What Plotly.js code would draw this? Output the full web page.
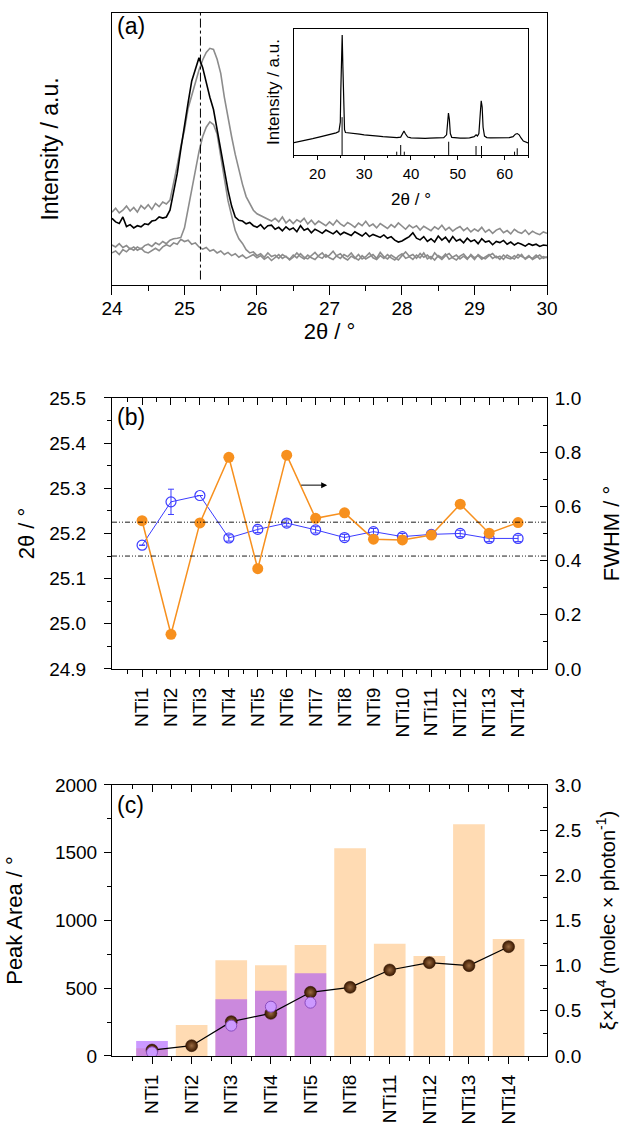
<!DOCTYPE html>
<html><head><meta charset="utf-8">
<script src="https://cdn.plot.ly/plotly-3.0.1.min.js"></script>
<style>html,body{margin:0;padding:0;background:#fff}#chart{width:626px;height:1127px}</style>
</head><body><div id="chart"></div>
<script>
// ---------- Panel (a): XRD detail (intensity in a.u. x1000) ----------
const thetaA = Array.from({length:121},(_,i)=>+(24+i*0.05).toFixed(2));
const blackA = [245,232,226,250,215,222,210,218,214,225,
 222,235,238,250,246,250,275,340,410,500,
 590,670,750,790,835,800,740,690,645,570,
 500,410,349,290,250,238,235,225,230,218,
 212,222,206,218,220,205,212,199,214,203,
 210,196,218,201,208,192,205,198,190,202,
 195,188,199,185,194,189,182,196,187,180,
 192,178,186,181,175,184,172,178,165,158,
 162,170,178,192,172,166,178,160,170,158,
 180,165,176,158,178,162,168,155,172,160,
 166,152,170,158,162,148,160,156,164,150,
 158,147,155,150,143,152,146,150,142,147,145];
const grayA1 = [268,282,265,275,290,272,285,268,292,280,
 295,278,300,288,305,298,312,370,440,510,
 570,650,700,750,790,827,855,870,866,830,
 778,690,610,545,480,420,370,325,298,275,
 262,255,250,242,235,245,232,250,228,240,
 226,240,232,245,224,238,222,235,228,218,
 232,220,238,225,216,230,222,212,228,218,
 234,216,224,210,226,218,208,222,212,228,
 216,205,220,210,218,202,216,208,200,214,
 205,220,202,212,198,208,215,200,210,195,
 206,198,212,194,204,190,202,208,192,200,
 188,205,195,190,202,186,198,190,185,195,190];
const grayA2 = [118,125,112,130,122,135,128,140,132,145,
 150,142,155,148,160,152,165,170,172,175,
 210,280,345,420,490,545,580,600,590,555,
 472,380,310,255,200,170,153,130,118,122,
 108,115,102,118,105,110,98,112,104,95,
 110,100,115,102,96,108,120,104,98,112,
 100,94,108,115,100,92,106,98,112,96,
 104,118,100,94,108,98,112,100,92,106,
 115,98,104,94,110,100,118,96,105,92,
 108,100,114,95,103,110,96,106,94,112,
 100,108,95,104,112,98,106,94,110,100,
 96,108,99,112,95,104,98,110,96,104,100];
const grayA3 = [147,140,152,138,145,132,140,128,135,122,
 118,128,135,126,140,148,142,155,150,168,
 160,165,150,155,140,132,138,125,130,118,
 125,112,120,108,115,102,110,98,105,112,
 100,108,95,104,90,100,112,98,106,92,
 102,118,104,96,110,100,94,108,118,102,
 110,124,106,98,112,104,118,100,92,108,
 96,104,112,98,120,104,96,110,102,92,
 108,122,106,112,98,116,102,110,96,118,
 104,94,108,116,100,92,106,114,98,108,
 94,112,102,96,108,116,100,106,94,110,
 102,96,112,104,98,108,94,102,110,98,104];
const peakRefA = [25.22];

// ---------- Inset: full pattern ----------
const thetaIn = [15,17,19,21,23,24,24.6,24.9,25.0,25.15,25.3,25.45,25.6,25.8,26,27,28,29,30,31,32,33,34,35,36,37,37.8,38.2,38.5,38.8,39.3,40,41,42,43,44,45,46,47,47.6,47.8,48.0,48.2,48.4,48.7,49.5,50.5,51.5,52.5,53.5,53.9,54.2,54.5,54.8,55.0,55.2,55.4,55.7,56.2,57,58,59,60,61,61.8,62.3,62.7,63.1,63.5,64,65];
const intIn = [98,112,130,148,165,175,185,260,500,850,952,700,350,200,178,172,168,165,160,158,155,150,146,142,140,138,142,165,190,168,142,136,133,133,132,133,134,135,137,160,260,333,280,170,140,135,134,134,136,145,160,150,170,330,430,380,220,150,138,136,135,134,135,137,145,165,170,160,135,110,95];
const refPos = [25.28,36.95,37.80,38.57,48.05,53.89,55.06,62.12,62.69];
const refInt = [300,26,79,26,105,71,71,26,53];

// ---------- Panel (b) ----------
const catsB = ['NTi1','NTi2','NTi3','NTi4','NTi5','NTi6','NTi7','NTi8','NTi9','NTi10','NTi11','NTi12','NTi13','NTi14'];
const twoThetaB = [25.174,25.270,25.284,25.190,25.209,25.223,25.208,25.191,25.204,25.193,25.198,25.200,25.189,25.189];
const twoThetaErrB = [0,0.028,0,0.007,0.007,0.007,0.007,0.007,0.007,0.007,0.007,0.007,0.007,0.007];
const fwhmB = [0.547,0.128,0.539,0.781,0.370,0.789,0.556,0.576,0.479,0.476,0.494,0.608,0.501,0.540];
const refLinesB = [25.225,25.150];

// ---------- Panel (c) ----------
const catsC = ['NTi1','NTi2','NTi3','NTi4','NTi5','NTi8','NTi11','NTi12','NTi13','NTi14'];
const areaTotalC = [57,229,706,669,819,1533,829,738,1710,863];
const catsCP = ['NTi1','NTi3','NTi4','NTi5'];
const areaPurpleC = [111,418,482,610];
const xiC = [0.066,0.114,0.380,0.472,0.705,0.760,0.952,1.033,1.000,1.210];
const xiPurpleC = [0.041,0.336,0.546,0.590];

// ---------- helpers ----------
const FONT = 'Liberation Sans, Arial, sans-serif';
const idxB = catsB.map((c,i)=>i);
const idxC = catsC.map((c,i)=>i);
const idxCP = catsCP.map(c=>catsC.indexOf(c));
const half = n => Array.from({length:n+1},(_,i)=>i-0.5);

const refX=[], refY=[];
refPos.forEach((p,i)=>{refX.push(p,p,null); refY.push(0,refInt[i],null);});

const traces = [
 {x:thetaA,y:grayA3,xaxis:'x',yaxis:'y',mode:'lines',line:{color:'#8c8c8c',width:1.6}},
 {x:thetaA,y:grayA2,xaxis:'x',yaxis:'y',mode:'lines',line:{color:'#8c8c8c',width:1.6}},
 {x:thetaA,y:grayA1,xaxis:'x',yaxis:'y',mode:'lines',line:{color:'#8c8c8c',width:1.6}},
 {x:thetaA,y:blackA,xaxis:'x',yaxis:'y',mode:'lines',line:{color:'#000',width:1.6}},
 {x:thetaIn,y:intIn,xaxis:'x2',yaxis:'y2',mode:'lines',line:{color:'#000',width:1.2}},
 {x:refX,y:refY,xaxis:'x2',yaxis:'y2',mode:'lines',line:{color:'#000',width:1}},
 // panel b
 {x:idxB,y:fwhmB,xaxis:'x3',yaxis:'y4',mode:'lines+markers',
  line:{color:'#f7901e',width:1.5},marker:{color:'#f7901e',size:11}},
 {x:idxB,y:twoThetaB,xaxis:'x3',yaxis:'y3',mode:'lines+markers',
  line:{color:'#3c3cff',width:1},
  marker:{symbol:'circle-open',color:'#3c3cff',size:10,line:{width:1.2}},
  error_y:{type:'data',array:twoThetaErrB,visible:true,color:'#3c3cff',thickness:1,width:3}},
 {x:[],y:[],xaxis:'x5',yaxis:'y3'},
 // panel c
 {x:idxC,y:areaTotalC,xaxis:'x4',yaxis:'y5',type:'bar',width:0.8,marker:{color:'#ffdbb3',line:{width:0}}},
 {x:idxCP,y:areaPurpleC,xaxis:'x4',yaxis:'y5',type:'bar',width:0.8,marker:{color:'rgba(160,70,255,0.55)',line:{width:0}}},
 {x:idxC,y:xiC,xaxis:'x4',yaxis:'y6',mode:'lines+markers',line:{color:'#000',width:1.2},
  marker:{color:'#3a1800',size:12,gradient:{type:'radial',color:'#9a6a40'},line:{color:'#2a1000',width:0.5}}},
 {x:idxCP,y:xiPurpleC,xaxis:'x4',yaxis:'y6',mode:'markers',
  marker:{color:'#cc99ff',size:11,line:{color:'#8a4cc0',width:1}}},
 {x:[],y:[],xaxis:'x6',yaxis:'y5'}
];

const XD=[0.1789,0.8738];
const TK=19, CAT=19;
const axBase = {showline:true,linecolor:'#000',linewidth:1,zeroline:false,showgrid:false,
  tickfont:{family:FONT,size:TK,color:'#000'},tickcolor:'#000',ticklen:7,tickwidth:1,ticklabelstandoff:3};
const titleFont = s=>({family:FONT,size:s,color:'#000'});

const layout = {
 width:626,height:1127,margin:{l:0,r:0,t:0,b:0},paper_bgcolor:'#fff',plot_bgcolor:'rgba(0,0,0,0)',
 showlegend:false,barmode:'overlay',font:{family:FONT,color:'#000'},
 // panel a
 xaxis:Object.assign({},axBase,{domain:XD,anchor:'y',range:[24,30],dtick:1,ticks:'outside',mirror:true,ticklen:9,ticklabelstandoff:-3,
   minor:{dtick:0.5,ticklen:5,ticks:'outside',tickcolor:'#000'},
   title:{text:'2θ / °',font:titleFont(22),standoff:2}}),
 yaxis:Object.assign({},axBase,{domain:[0.7471,0.9885],anchor:'x',range:[0,1000],showticklabels:false,ticks:'',mirror:true,
   title:{text:'Intensity / a.u.',font:titleFont(23),standoff:45}}),
 // inset
 xaxis2:Object.assign({},axBase,{domain:[0.4696,0.8435],anchor:'y2',range:[15,65],dtick:10,ticks:'outside',ticklen:4,mirror:true,
   tickfont:{family:FONT,size:15,color:'#000'},ticklabelstandoff:1,minor:{dtick:5,ticklen:2,ticks:'outside',tickcolor:'#000'},
   title:{text:'2θ / °',font:titleFont(17),standoff:12}}),
 yaxis2:Object.assign({},axBase,{domain:[0.8625,0.9743],anchor:'x2',range:[0,1000],showticklabels:false,ticks:'',mirror:true,
   title:{text:'Intensity / a.u.',font:titleFont(17),standoff:9}}),
 // panel b
 xaxis3:Object.assign({},axBase,{domain:XD,anchor:'y3',range:[-1.04,14.0],tickmode:'array',tickvals:idxB,ticktext:catsB,
   tickangle:-90,ticks:'outside',tickfont:{family:FONT,size:CAT,color:'#000'},
   minor:{tickmode:'array',tickvals:half(14),ticklen:4,ticks:'outside',tickcolor:'#000'}}),
 xaxis5:Object.assign({},axBase,{overlaying:'x3',side:'top',anchor:'y3',range:[-1.04,14.0],tickmode:'array',tickvals:idxB,
   showticklabels:false,ticks:'inside',minor:{tickmode:'array',tickvals:half(14),ticklen:4,ticks:'inside',tickcolor:'#000'}}),
 yaxis3:Object.assign({},axBase,{domain:[0.4064,0.6469],anchor:'x3',range:[24.9,25.5],dtick:0.1,tickformat:'.1f',ticks:'outside',ticklabelstandoff:14,
   minor:{dtick:0.05,ticklen:4,ticks:'outside',tickcolor:'#000'},
   title:{text:'2θ / °',font:titleFont(22),standoff:8}}),
 yaxis4:Object.assign({},axBase,{overlaying:'y3',side:'right',anchor:'x3',range:[0,1],dtick:0.2,tickformat:'.1f',ticks:'inside',
   minor:{dtick:0.1,ticklen:4,ticks:'inside',tickcolor:'#000'},
   title:{text:'FWHM / °',font:titleFont(22),standoff:22}}),
 // panel c
 xaxis4:Object.assign({},axBase,{domain:XD,anchor:'y5',range:[-1.01,9.97],tickmode:'array',tickvals:idxC,ticktext:catsC,
   tickangle:-90,ticks:'outside',tickfont:{family:FONT,size:CAT,color:'#000'},
   minor:{tickmode:'array',tickvals:half(10),ticklen:4,ticks:'outside',tickcolor:'#000'}}),
 xaxis6:Object.assign({},axBase,{overlaying:'x4',side:'top',anchor:'y5',range:[-1.01,9.97],tickmode:'array',tickvals:idxC,
   showticklabels:false,ticks:'inside',minor:{tickmode:'array',tickvals:half(10),ticklen:4,ticks:'inside',tickcolor:'#000'}}),
 yaxis5:Object.assign({},axBase,{domain:[0.0630,0.3035],anchor:'x4',range:[0,2000],dtick:500,ticks:'outside',
   minor:{dtick:250,ticklen:4,ticks:'outside',tickcolor:'#000'},
   title:{text:'Peak Area / °',font:titleFont(22),standoff:26}}),
 yaxis6:Object.assign({},axBase,{overlaying:'y5',side:'right',anchor:'x4',range:[0,3],dtick:0.5,tickformat:'.1f',ticks:'inside',
   minor:{dtick:0.25,ticklen:4,ticks:'inside',tickcolor:'#000'},
   title:{text:'ξ×10<sup>4</sup> (molec × photon<sup>-1</sup>)',font:titleFont(20),standoff:20}}),
 shapes:[
  ...peakRefA.map(v=>({type:'line',xref:'x',yref:'y',x0:v,x1:v,y0:20,y1:1000,line:{color:'#000',width:1,dash:'dashdot'}})),
  ...refLinesB.map(v=>({type:'line',xref:'x3 domain',yref:'y3',x0:0,x1:1,y0:v,y1:v,line:{color:'#000',width:0.9,dash:'5px,2px,1px,2px,1px,2px'}}))
 ],
 annotations:[
  {text:'(a)',xref:'paper',yref:'paper',x:115/626,y:1-26/1127,xanchor:'left',yanchor:'middle',showarrow:false,font:{family:FONT,size:23,color:'#000'}},
  {text:'(b)',xref:'paper',yref:'paper',x:115/626,y:1-417/1127,xanchor:'left',yanchor:'middle',showarrow:false,font:{family:FONT,size:23,color:'#000'}},
  {text:'(c)',xref:'paper',yref:'paper',x:115/626,y:1-805/1127,xanchor:'left',yanchor:'middle',showarrow:false,font:{family:FONT,size:23,color:'#000'}},
  {text:' ',xref:'x3',yref:'y3',x:6.4,y:25.307,axref:'x3',ayref:'y3',ax:5.45,ay:25.307,showarrow:true,arrowhead:2,arrowsize:1.2,arrowwidth:1,arrowcolor:'#000',font:{size:1}}
 ]
};
Plotly.newPlot('chart',traces,layout,{staticPlot:true,displayModeBar:false});
</script></body></html>
